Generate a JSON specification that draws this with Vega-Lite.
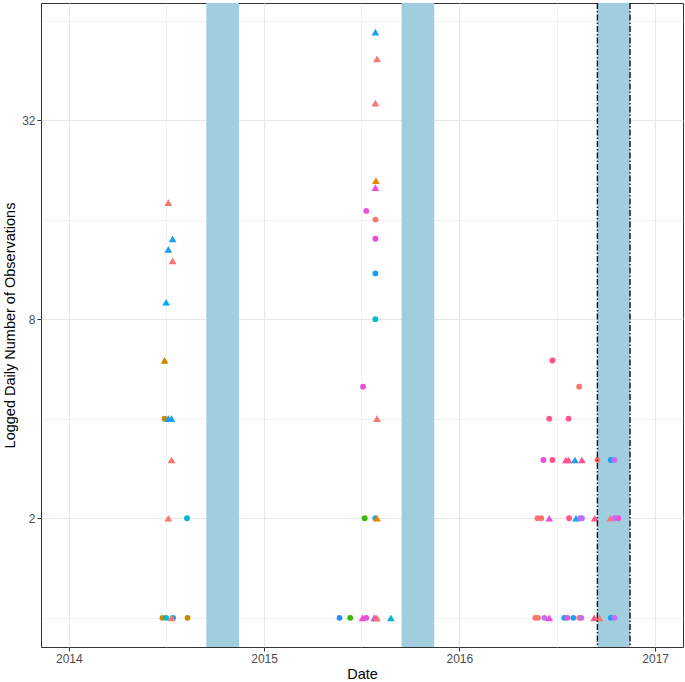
{
  "$schema": "https://vega.github.io/schema/vega-lite/v6.json",
  "width": 642,
  "height": 644,
  "autosize": {"type": "none"},
  "padding": {"left": 41, "top": 3, "right": 2, "bottom": 35},
  "background": "white",
  "config": {
    "view": {"stroke": "#333333", "strokeWidth": 1},
    "font": "Liberation Sans",
    "axis": {
      "domain": false,
      "labelColor": "#4D4D4D",
      "labelFontSize": 12,
      "labelFont": "Liberation Sans",
      "titleFont": "Liberation Sans",
      "titleColor": "black",
      "titleFontSize": 14.5,
      "titleFontWeight": "normal",
      "tickColor": "#333333",
      "tickSize": 4,
      "gridColor": "#E8E8E8"
    }
  },
  "datasets": {
    "season": [
      {"start": "2014-09-15", "end": "2014-11-15"},
      {"start": "2015-09-15", "end": "2015-11-15"},
      {"start": "2016-09-15", "end": "2016-11-15"}
    ],
    "lines": [
      {"date": "2016-09-15"},
      {"date": "2016-11-15"}
    ],
    "obs": [
      {"date": "2014-07-06", "n": 18, "grp": "red", "kind": "tri"},
      {"date": "2014-07-14", "n": 14, "grp": "sky", "kind": "tri"},
      {"date": "2014-07-06", "n": 13, "grp": "sky", "kind": "tri"},
      {"date": "2014-07-14", "n": 12, "grp": "red", "kind": "tri"},
      {"date": "2014-07-02", "n": 9, "grp": "cyan", "kind": "tri"},
      {"date": "2014-06-29", "n": 6, "grp": "brown", "kind": "tri"},
      {"date": "2014-06-29", "n": 4, "grp": "brown", "kind": "circle"},
      {"date": "2014-07-06", "n": 4, "grp": "sky", "kind": "tri"},
      {"date": "2014-07-12", "n": 4, "grp": "sky", "kind": "tri"},
      {"date": "2014-07-12", "n": 3, "grp": "red", "kind": "tri"},
      {"date": "2014-07-06", "n": 2, "grp": "red", "kind": "tri"},
      {"date": "2014-08-10", "n": 2, "grp": "teal", "kind": "circle"},
      {"date": "2014-06-25", "n": 1, "grp": "brown", "kind": "circle"},
      {"date": "2014-07-02", "n": 1, "grp": "teal", "kind": "circle"},
      {"date": "2014-07-15", "n": 1, "grp": "sky", "kind": "circle"},
      {"date": "2014-07-12", "n": 1, "grp": "red", "kind": "tri"},
      {"date": "2014-08-11", "n": 1, "grp": "brown", "kind": "circle"},

      {"date": "2015-07-28", "n": 59, "grp": "sky", "kind": "tri"},
      {"date": "2015-07-31", "n": 49, "grp": "red", "kind": "tri"},
      {"date": "2015-07-28", "n": 36, "grp": "red", "kind": "tri"},
      {"date": "2015-07-29", "n": 21, "grp": "orange", "kind": "tri"},
      {"date": "2015-07-28", "n": 20, "grp": "magenta", "kind": "tri"},
      {"date": "2015-07-11", "n": 17, "grp": "magenta", "kind": "circle"},
      {"date": "2015-07-28", "n": 16, "grp": "red", "kind": "circle"},
      {"date": "2015-07-28", "n": 14, "grp": "magenta", "kind": "circle"},
      {"date": "2015-07-28", "n": 11, "grp": "sky", "kind": "circle"},
      {"date": "2015-07-28", "n": 8, "grp": "teal", "kind": "circle"},
      {"date": "2015-07-05", "n": 5, "grp": "magenta", "kind": "circle"},
      {"date": "2015-07-31", "n": 4, "grp": "red", "kind": "tri"},
      {"date": "2015-07-08", "n": 2, "grp": "green", "kind": "circle"},
      {"date": "2015-07-28", "n": 2, "grp": "sky", "kind": "circle"},
      {"date": "2015-07-31", "n": 2, "grp": "orange", "kind": "tri"},
      {"date": "2015-05-22", "n": 1, "grp": "royal", "kind": "circle"},
      {"date": "2015-06-11", "n": 1, "grp": "green", "kind": "circle"},
      {"date": "2015-07-04", "n": 1, "grp": "magenta", "kind": "tri"},
      {"date": "2015-07-11", "n": 1, "grp": "magenta", "kind": "circle"},
      {"date": "2015-07-26", "n": 1, "grp": "sky", "kind": "tri"},
      {"date": "2015-07-27", "n": 1, "grp": "magenta", "kind": "tri"},
      {"date": "2015-07-31", "n": 1, "grp": "red", "kind": "tri"},
      {"date": "2015-08-26", "n": 1, "grp": "teal", "kind": "tri"},

      {"date": "2016-06-23", "n": 6, "grp": "pink", "kind": "circle"},
      {"date": "2016-08-12", "n": 5, "grp": "red", "kind": "circle"},
      {"date": "2016-06-17", "n": 4, "grp": "pink", "kind": "circle"},
      {"date": "2016-07-23", "n": 4, "grp": "pink", "kind": "circle"},
      {"date": "2016-06-06", "n": 3, "grp": "magenta", "kind": "circle"},
      {"date": "2016-06-23", "n": 3, "grp": "pink", "kind": "circle"},
      {"date": "2016-07-18", "n": 3, "grp": "pink", "kind": "tri"},
      {"date": "2016-07-23", "n": 3, "grp": "pink", "kind": "tri"},
      {"date": "2016-08-04", "n": 3, "grp": "sky", "kind": "tri"},
      {"date": "2016-08-17", "n": 3, "grp": "pink", "kind": "tri"},
      {"date": "2016-09-15", "n": 3, "grp": "red", "kind": "circle"},
      {"date": "2016-10-10", "n": 3, "grp": "sky", "kind": "circle"},
      {"date": "2016-10-17", "n": 3, "grp": "purple", "kind": "circle"},
      {"date": "2016-05-26", "n": 2, "grp": "red", "kind": "circle"},
      {"date": "2016-06-02", "n": 2, "grp": "red", "kind": "circle"},
      {"date": "2016-06-17", "n": 2, "grp": "magenta", "kind": "tri"},
      {"date": "2016-07-24", "n": 2, "grp": "pink", "kind": "circle"},
      {"date": "2016-08-06", "n": 2, "grp": "sky", "kind": "tri"},
      {"date": "2016-08-14", "n": 2, "grp": "purple", "kind": "circle"},
      {"date": "2016-08-17", "n": 2, "grp": "purple", "kind": "circle"},
      {"date": "2016-09-10", "n": 2, "grp": "pink", "kind": "tri"},
      {"date": "2016-10-09", "n": 2, "grp": "red", "kind": "tri"},
      {"date": "2016-10-17", "n": 2, "grp": "purple", "kind": "circle"},
      {"date": "2016-10-24", "n": 2, "grp": "magenta", "kind": "circle"},
      {"date": "2016-05-22", "n": 1, "grp": "red", "kind": "circle"},
      {"date": "2016-05-27", "n": 1, "grp": "red", "kind": "circle"},
      {"date": "2016-06-08", "n": 1, "grp": "purple", "kind": "circle"},
      {"date": "2016-06-17", "n": 1, "grp": "magenta", "kind": "tri"},
      {"date": "2016-07-15", "n": 1, "grp": "sky", "kind": "circle"},
      {"date": "2016-07-21", "n": 1, "grp": "magenta", "kind": "circle"},
      {"date": "2016-08-01", "n": 1, "grp": "sky", "kind": "circle"},
      {"date": "2016-08-12", "n": 1, "grp": "red", "kind": "circle"},
      {"date": "2016-08-16", "n": 1, "grp": "purple", "kind": "circle"},
      {"date": "2016-09-09", "n": 1, "grp": "pink", "kind": "tri"},
      {"date": "2016-09-19", "n": 1, "grp": "red", "kind": "tri"},
      {"date": "2016-10-10", "n": 1, "grp": "sky", "kind": "circle"},
      {"date": "2016-10-17", "n": 1, "grp": "purple", "kind": "circle"}
    ]
  },
  "layer": [
    {
      "data": {"name": "season"},
      "mark": {"type": "rect", "color": "#A0CEDE", "opacity": 1},
      "encoding": {
        "x": {
          "field": "start",
          "type": "temporal",
          "scale": {
            "type": "utc",
            "domain": [
              {"year": 2013, "month": 11, "date": 10, "utc": true},
              {"year": 2017, "month": 2, "date": 22, "utc": true}
            ],
            "nice": false
          },
          "axis": {
            "title": "Date",
            "values": [
              {"year": 2014, "month": 1, "date": 1, "utc": true},
              {"year": 2014, "month": 7, "date": 2, "utc": true},
              {"year": 2015, "month": 1, "date": 1, "utc": true},
              {"year": 2015, "month": 7, "date": 2, "utc": true},
              {"year": 2016, "month": 1, "date": 1, "utc": true},
              {"year": 2016, "month": 7, "date": 2, "utc": true},
              {"year": 2017, "month": 1, "date": 1, "utc": true}
            ],
            "labelExpr": "utcmonth(datum.value) == 0 ? utcFormat(datum.value, '%Y') : ''",
            "gridWidth": {"condition": {"test": "utcmonth(datum.value) == 0", "value": 1.2}, "value": 0.6},
            "tickOpacity": {"condition": {"test": "utcmonth(datum.value) == 0", "value": 1}, "value": 0},
            "labelPadding": 2,
            "titlePadding": 3,
            "labelFlush": false,
            "labelOverlap": false
          }
        },
        "x2": {"field": "end"}
      }
    },
    {
      "data": {"name": "obs"},
      "mark": {"type": "point", "filled": true, "opacity": 1, "strokeWidth": 0},
      "encoding": {
        "x": {"field": "date", "type": "temporal"},
        "y": {
          "field": "n",
          "type": "quantitative",
          "scale": {"type": "log", "base": 2, "domain": [0.816, 72.3], "nice": false, "zero": false},
          "axis": {
            "title": "Logged Daily Number of Observations",
            "values": [1, 2, 4, 8, 16, 32, 64],
            "labelExpr": "(datum.value == 2 || datum.value == 8 || datum.value == 32) ? format(datum.value, 'd') : ''",
            "gridWidth": {"condition": {"test": "datum.value == 2 || datum.value == 8 || datum.value == 32", "value": 1.2}, "value": 0.6},
            "tickOpacity": {"condition": {"test": "datum.value == 2 || datum.value == 8 || datum.value == 32", "value": 1}, "value": 0},
            "labelPadding": 2,
            "titlePadding": 4,
            "labelOverlap": false
          }
        },
        "color": {
          "field": "grp",
          "type": "nominal",
          "legend": null,
          "scale": {
            "domain": ["red", "orange", "brown", "green", "teal", "cyan", "sky", "royal", "purple", "magenta", "pink"],
            "range": ["#F8766D", "#E38900", "#C88A00", "#39B600", "#00B8D0", "#00ADEF", "#1AA0F5", "#2B8CF8", "#BF6EFA", "#EA4FD8", "#FD548F"]
          }
        },
        "shape": {
          "field": "kind",
          "type": "nominal",
          "legend": null,
          "scale": {"domain": ["circle", "tri"], "range": ["circle", "triangle-up"]}
        },
        "size": {
          "field": "kind",
          "type": "nominal",
          "legend": null,
          "scale": {"domain": ["circle", "tri"], "range": [34, 60]}
        }
      }
    },
    {
      "data": {"name": "lines"},
      "mark": {"type": "rule", "color": "#111111", "strokeWidth": 1.4, "strokeDash": [6, 2, 1.5, 2]},
      "encoding": {
        "x": {"field": "date", "type": "temporal"}
      }
    }
  ]
}
